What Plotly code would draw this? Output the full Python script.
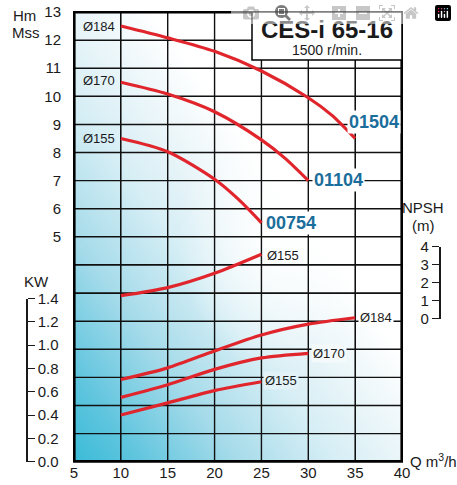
import base64
import plotly.graph_objects as go

W, H = 457, 485

# ---------------- data ----------------
q_ticks = [5, 10, 15, 20, 25, 30, 35, 40]
hm_tickvals = list(range(-3, 14))
hm_ticktext = [""] * 8 + [str(v) for v in range(5, 14)]
kw_tickvals = [0, 0.2, 0.4, 0.6, 0.8, 1.0, 1.2, 1.4]
npsh_tickvals = [0, 1, 2, 3, 4]

# Head curves (Hm) per impeller diameter
q_h184 = [10, 15, 20, 25, 30, 32.5, 35]
h_184 = [12.5, 12.08, 11.6, 10.9, 9.95, 9.33, 8.5]
q_h170 = [10, 15, 20, 25, 27.5, 30]
h_170 = [10.5, 10.08, 9.45, 8.45, 7.8, 7.0]
q_h155 = [10, 15, 20, 22.5, 25]
h_155 = [8.5, 8.03, 7.05, 6.35, 5.5]

# Power curves (KW)
q_p184 = [10, 15, 20, 25, 30, 35]
kw_184 = [0.705, 0.805, 0.95, 1.087, 1.18, 1.235]
q_p170 = [10, 15, 20, 25, 30]
kw_170 = [0.552, 0.66, 0.792, 0.89, 0.93]
q_p155 = [10, 15, 20, 25]
kw_155 = [0.40, 0.505, 0.61, 0.686]

# NPSH curve (m)
q_n155 = [10, 15, 20, 25]
npsh_155 = [1.27, 1.72, 2.52, 3.58]

# ---------------- helpers ----------------
def px(x):
    return x / W

def py(y):
    return 1 - y / H

RED = "#e0262c"
BLUE = "#1b6d9b"
FONT = "Liberation Sans, Arial, sans-serif"
GRID = "#111111"

# decorative background gradient (svg image placed under the plot area)
svg = (
    "<svg xmlns='http://www.w3.org/2000/svg' width='328' height='450' viewBox='0 0 328 450' "
    "preserveAspectRatio='none'><defs>"
    "<linearGradient id='g' x1='0' y1='1' x2='1' y2='0'>"
    "<stop offset='0' stop-color='#3abbd8'/>"
    "<stop offset='0.1' stop-color='#60c5de'/>"
    "<stop offset='0.25' stop-color='#a6dbea'/>"
    "<stop offset='0.4' stop-color='#d6eef5'/>"
    "<stop offset='0.5' stop-color='#e9f5f9'/>"
    "<stop offset='0.62' stop-color='#ffffff'/>"
    "<stop offset='1' stop-color='#ffffff'/>"
    "</linearGradient>"
    "<radialGradient id='r' cx='0.62' cy='0.5' r='0.3'>"
    "<stop offset='0' stop-color='#ffffff' stop-opacity='1'/>"
    "<stop offset='1' stop-color='#ffffff' stop-opacity='0'/>"
    "</radialGradient></defs>"
    "<rect width='328' height='450' fill='url(#g)'/>"
    "<rect width='328' height='450' fill='url(#r)'/>"
    "</svg>"
)
svg_uri = "data:image/svg+xml;base64," + base64.b64encode(svg.encode()).decode()

fig = go.Figure()

# grid lines at the axis tick positions (drawn first, under the curves)
grid_x, grid_y = [], []
for q in q_ticks[1:-1]:
    grid_x += [q, q, None]
    grid_y += [hm_tickvals[0], hm_tickvals[-1], None]
for h in hm_tickvals[1:-1]:
    grid_x += [q_ticks[0], q_ticks[-1], None]
    grid_y += [h, h, None]
fig.add_trace(go.Scatter(x=grid_x, y=grid_y, mode="lines", line=dict(color=GRID, width=1.4),
                         xaxis="x", yaxis="y", showlegend=False, hoverinfo="skip"))
# plot frame
fig.add_trace(go.Scatter(x=[q_ticks[0], q_ticks[-1], q_ticks[-1], q_ticks[0], q_ticks[0]],
                         y=[hm_tickvals[0], hm_tickvals[0], hm_tickvals[-1], hm_tickvals[-1], hm_tickvals[0]],
                         mode="lines", line=dict(color="black", width=3.2), cliponaxis=False,
                         xaxis="x", yaxis="y", showlegend=False, hoverinfo="skip"))

line = dict(color=RED, width=3.2, shape="spline", smoothing=0.8)
for qx, hy in [(q_h184, h_184), (q_h170, h_170), (q_h155, h_155)]:
    fig.add_trace(go.Scatter(x=qx, y=hy, mode="lines", line=line,
                             xaxis="x", yaxis="y", showlegend=False, hoverinfo="skip"))
for qx, ky in [(q_p184, kw_184), (q_p170, kw_170), (q_p155, kw_155)]:
    fig.add_trace(go.Scatter(x=qx, y=ky, mode="lines", line=line,
                             xaxis="x2", yaxis="y2", showlegend=False, hoverinfo="skip"))
fig.add_trace(go.Scatter(x=q_n155, y=npsh_155, mode="lines", line=line,
                         xaxis="x2", yaxis="y3", showlegend=False, hoverinfo="skip"))

x_dom = [px(74), px(402)]
y_dom = [py(461.7), py(12)]

fig.update_layout(
    width=W, height=H,
    margin=dict(l=0, r=0, t=0, b=0, autoexpand=False),
    paper_bgcolor="white", plot_bgcolor="rgba(0,0,0,0)",
    showlegend=False,
    font=dict(family=FONT, size=15, color="#1a1a1a"),
    xaxis=dict(domain=x_dom, range=[5, 40], tickvals=q_ticks, ticks="",
               showgrid=True, gridcolor=GRID, gridwidth=1, zeroline=False, showline=False,
               tickfont=dict(size=15), anchor="y"),
    yaxis=dict(domain=y_dom, range=[-3, 13], tickvals=hm_tickvals, ticktext=hm_ticktext,
               ticks="outside", ticklen=9, tickcolor="rgba(0,0,0,0)",
               showgrid=True, gridcolor=GRID, gridwidth=1, zeroline=False, showline=False,
               tickfont=dict(size=15), anchor="x"),
    xaxis2=dict(domain=x_dom, range=[5, 40], visible=False, showgrid=False, anchor="y2"),
    yaxis2=dict(domain=[py(461.7), py(298.5)], range=[0, 1.4], tickvals=kw_tickvals,
                tickformat=".1f", anchor="free", position=px(27), side="right",
                ticks="outside", ticklen=7, tickwidth=1.3, tickcolor="#1a1a1a",
                showline=True, linecolor="#1a1a1a", linewidth=1.5,
                showgrid=False, zeroline=False, tickfont=dict(size=15)),
    yaxis3=dict(domain=[py(318.5), py(246.7)], range=[0, 4], tickvals=npsh_tickvals,
                anchor="free", position=px(439.5), side="left",
                ticks="outside", ticklen=7, tickwidth=1.3, tickcolor="#1a1a1a",
                showline=True, linecolor="#1a1a1a", linewidth=1.5,
                showgrid=False, zeroline=False, tickfont=dict(size=15)),
    images=[dict(source=svg_uri, xref="paper", yref="paper", x=px(74), y=py(12),
                 sizex=px(402) - px(74), sizey=py(12) - py(461.7),
                 xanchor="left", yanchor="top", sizing="stretch", layer="below")],
)

# outer frame (paper)
fig.add_shape(type="rect", xref="paper", yref="paper",
              x0=px(74), x1=px(402), y0=py(461.7), y1=py(12),
              fillcolor="rgba(0,0,0,0)", line=dict(color="black", width=2), layer="above")
# title box
fig.add_shape(type="rect", xref="paper", yref="paper",
              x0=px(252), x1=px(402), y0=py(60), y1=py(12),
              fillcolor="white", line=dict(color="black", width=1.5), layer="above")

ann = []
def A(text, x, y, size=15, xanchor="center", color="#1a1a1a", bg=None, bold=False):
    d = dict(text=("<b>%s</b>" % text) if bold else text, x=px(x), y=py(y), xref="paper", yref="paper",
             xanchor=xanchor, yanchor="middle", showarrow=False,
             font=dict(size=size, color=color, family=FONT), borderpad=1)
    if bg:
        d["bgcolor"] = bg
    ann.append(d)

A("CES-i 65-16", 327, 29, size=24, bold=True)
A("1500 r/min.", 327, 50, size=14)
A("Hm", 24, 15)
A("Mss", 26, 33)
A("KW", 36, 281)
A("NPSH", 423, 207)
A("(m)", 423, 225)
A("Q m<sup>3</sup>/h", 433, 460, size=15)

# diameter labels (head)
A("Ø184", 81, 26, size=13, xanchor="left")
A("Ø170", 81, 81, size=13, xanchor="left")
A("Ø155", 81, 138, size=13, xanchor="left")
# model labels
A("01504", 347, 121.5, size=18, xanchor="left", color=BLUE, bg="white", bold=True)
A("01104", 312, 179.5, size=18, xanchor="left", color=BLUE, bg="white", bold=True)
A("00754", 264, 223.5, size=18, xanchor="left", color=BLUE, bg="white", bold=True)
# power / npsh labels
A("Ø155", 265, 255, size=13, xanchor="left")
A("Ø184", 358, 317, size=13, xanchor="left", bg="#ffffff")
A("Ø170", 311, 353, size=13, xanchor="left", bg="#f4fafc")
A("Ø155", 263, 380, size=13, xanchor="left", bg="#e2f2f7")

fig.update_layout(annotations=ann)
fig.write_html("out.html", post_script="document.body.style.margin='0';")
